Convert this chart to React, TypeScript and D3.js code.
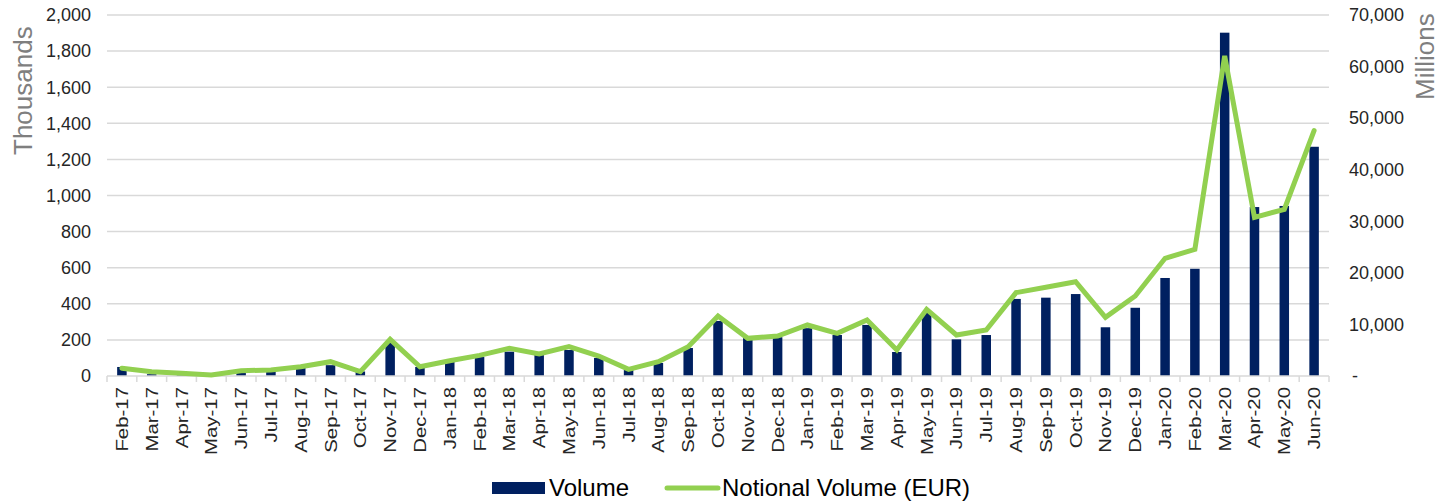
import React, { useEffect, useRef } from 'react';
import * as d3 from 'd3';

// Months shown on the x axis
const months = [
  'Feb-17', 'Mar-17', 'Apr-17', 'May-17', 'Jun-17', 'Jul-17', 'Aug-17', 'Sep-17', 'Oct-17', 'Nov-17', 'Dec-17',
  'Jan-18', 'Feb-18', 'Mar-18', 'Apr-18', 'May-18', 'Jun-18', 'Jul-18', 'Aug-18', 'Sep-18', 'Oct-18', 'Nov-18', 'Dec-18',
  'Jan-19', 'Feb-19', 'Mar-19', 'Apr-19', 'May-19', 'Jun-19', 'Jul-19', 'Aug-19', 'Sep-19', 'Oct-19', 'Nov-19', 'Dec-19',
  'Jan-20', 'Feb-20', 'Mar-20', 'Apr-20', 'May-20', 'Jun-20',
];

// Volume (thousands) - bars, left axis
const volume = [
  50, 10, 5, 3, 28, 33, 45, 60, 25, 183, 50,
  78, 105, 135, 116, 144, 100, 33, 72, 155, 305, 210, 215,
  265, 227, 283, 133, 349, 203, 227, 427, 434, 454, 270, 378,
  543, 594, 1902, 936, 942, 1270,
];

// Notional volume EUR (millions) - line, right axis
const notional = [
  1500, 840, 520, 190, 1030, 1160, 1800, 2780, 840, 7110, 1800,
  2970, 4000, 5370, 4270, 5690, 3880, 1290, 2780, 5690, 11630, 7300, 7760,
  9890, 8270, 10860, 5040, 12930, 7950, 8920, 16160, 17200, 18290, 11380, 15510,
  22820, 24570, 62050, 30770, 32320, 47570,
];

const leftTicks = [0, 200, 400, 600, 800, 1000, 1200, 1400, 1600, 1800, 2000];
const rightTicks = [0, 10000, 20000, 30000, 40000, 50000, 60000, 70000];

const BAR_COLOR = '#002060';
const LINE_COLOR = '#92D050';
const FONT = '"Liberation Sans", Arial, sans-serif';

const App = () => {
  const svgRef = useRef<SVGSVGElement | null>(null);

  useEffect(() => {
    const svg = d3.select(svgRef.current);
    svg.selectAll('*').remove();

    const width = 1441;
    const height = 501;
    const plot = { left: 107, right: 1329, top: 15, bottom: 376 };

    svg.attr('width', width).attr('height', height).style('font-family', FONT);

    // Scales
    const x = d3.scaleBand<string>()
      .domain(months)
      .range([plot.left, plot.right]);

    const yLeft = d3.scaleLinear().domain([0, 2000]).range([plot.bottom, plot.top]);
    const yRight = d3.scaleLinear().domain([0, 70000]).range([plot.bottom, plot.top]);

    // Gridlines
    svg.append('g')
      .selectAll('line')
      .data(leftTicks.slice(1))
      .enter()
      .append('line')
      .attr('x1', plot.left)
      .attr('x2', plot.right)
      .attr('y1', d => yLeft(d))
      .attr('y2', d => yLeft(d))
      .attr('stroke', '#d9d9d9')
      .attr('stroke-width', 1.5);

    // Left axis labels
    svg.append('g')
      .selectAll('text')
      .data(leftTicks)
      .enter()
      .append('text')
      .attr('x', 91)
      .attr('y', d => yLeft(d))
      .attr('dy', '0.35em')
      .attr('text-anchor', 'end')
      .style('font-size', '18px')
      .style('fill', '#262626')
      .text(d => d3.format(',')(d));

    // Right axis labels (zero shown as a dash)
    svg.append('g')
      .selectAll('text')
      .data(rightTicks)
      .enter()
      .append('text')
      .attr('x', d => (d === 0 ? 1352 : 1349))
      .attr('y', d => yRight(d))
      .attr('dy', '0.35em')
      .attr('text-anchor', 'start')
      .style('font-size', '18px')
      .style('fill', '#262626')
      .text(d => (d === 0 ? '-' : d3.format(',')(d)));

    // Bars
    const barWidth = 9.5;
    svg.append('g')
      .selectAll('rect')
      .data(volume)
      .enter()
      .append('rect')
      .attr('x', (d, i) => (x(months[i]) as number) + x.bandwidth() / 2 - barWidth / 2)
      .attr('y', d => yLeft(d))
      .attr('width', barWidth)
      .attr('height', d => plot.bottom - yLeft(d))
      .attr('fill', BAR_COLOR);

    // Bottom axis line + tick marks between categories
    const axisG = svg.append('g');
    axisG.append('line')
      .attr('x1', plot.left)
      .attr('x2', plot.right)
      .attr('y1', plot.bottom)
      .attr('y2', plot.bottom)
      .attr('stroke', '#d9d9d9')
      .attr('stroke-width', 1.5);
    axisG.selectAll('.tick')
      .data(d3.range(months.length + 1))
      .enter()
      .append('line')
      .attr('class', 'tick')
      .attr('x1', i => plot.left + i * x.step())
      .attr('x2', i => plot.left + i * x.step())
      .attr('y1', plot.bottom)
      .attr('y2', plot.bottom + 6)
      .attr('stroke', '#d9d9d9')
      .attr('stroke-width', 1.5);

    // Month labels, rotated
    axisG.selectAll('.mlabel')
      .data(months)
      .enter()
      .append('text')
      .attr('class', 'mlabel')
      .attr('transform', d => `translate(${(x(d) as number) + x.bandwidth() / 2 + 6},387) rotate(-90) scale(1.2,1)`)
      .attr('text-anchor', 'end')
      .style('font-size', '17px')
      .style('fill', '#262626')
      .text(d => d);

    // Notional line
    const line = d3.line<number>()
      .x((d, i) => (x(months[i]) as number) + x.bandwidth() / 2)
      .y(d => yRight(d));

    svg.append('path')
      .datum(notional)
      .attr('d', line)
      .attr('fill', 'none')
      .attr('stroke', LINE_COLOR)
      .attr('stroke-width', 5)
      .attr('stroke-linecap', 'round');

    // Axis titles
    svg.append('text')
      .attr('transform', 'translate(32,155) rotate(-90)')
      .attr('text-anchor', 'start')
      .style('font-size', '26px')
      .style('fill', '#7f7f7f')
      .text('Thousands');

    // kept inside the right edge
    svg.append('text')
      .attr('transform', 'translate(1434,100) rotate(-90)')
      .attr('text-anchor', 'start')
      .style('font-size', '26px')
      .style('fill', '#7f7f7f')
      .text('Millions');

    // Legend
    const legend = svg.append('g');
    legend.append('rect')
      .attr('x', 492)
      .attr('y', 482)
      .attr('width', 53)
      .attr('height', 12)
      .attr('fill', BAR_COLOR);
    legend.append('text')
      .attr('x', 549)
      .attr('y', 496)
      .style('font-size', '24px')
      .style('fill', '#000')
      .text('Volume');
    legend.append('line')
      .attr('x1', 667)
      .attr('x2', 718)
      .attr('y1', 488)
      .attr('y2', 488)
      .attr('stroke', LINE_COLOR)
      .attr('stroke-width', 5)
      .attr('stroke-linecap', 'round');
    legend.append('text')
      .attr('x', 722)
      .attr('y', 496)
      .style('font-size', '24px')
      .style('fill', '#000')
      .text('Notional Volume (EUR)');
  }, []);

  return (
    <svg ref={svgRef} style={{ position: 'absolute', left: 0, top: 0 }}></svg>
  );
};

export default App;
